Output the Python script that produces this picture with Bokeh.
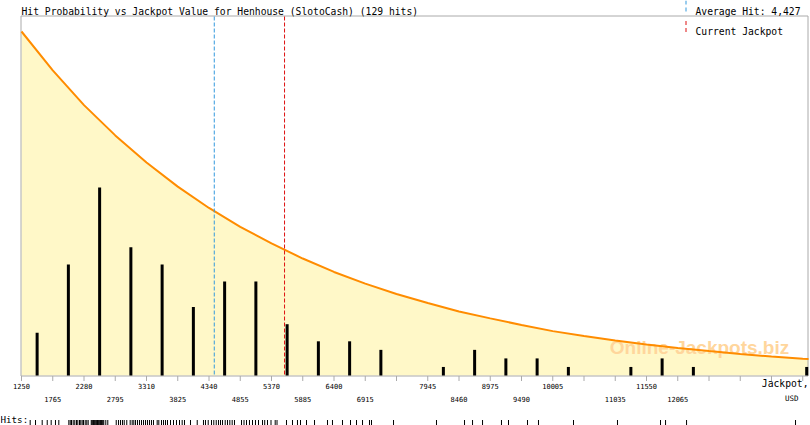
from bokeh.plotting import figure
from bokeh.models import Range1d, Label
from bokeh.core.properties import value
from bokeh.embed import file_html
from bokeh.resources import INLINE

# ---------------- data ----------------
casino = "Henhouse (SlotoCash)"
average_hit = 4427
current_jackpot = 5585

ticks = [1250, 1765, 2280, 2795, 3310, 3825, 4340, 4855, 5370, 5885, 6400,
         6915, 7430, 7945, 8460, 8975, 9490, 10005, 10520, 11035, 11550,
         12065, 12580, 13095, 13610, 14125]
upper_labels = [1250, 2280, 3310, 4340, 5370, 6400, 7945, 8975, 10005, 11550]
lower_labels = [1765, 2795, 3825, 4855, 5885, 6915, 8460, 9490, 11035, 12065]

bin_centers = [1507.5, 2022.5, 2537.5, 3052.5, 3567.5, 4082.5, 4597.5, 5112.5,
               5627.5, 6142.5, 6657.5, 7172.5, 8202.5, 8717.5, 9232.5, 9747.5,
               10262.5, 11292.5, 11807.5, 12322.5, 14190]
bin_hits = [5, 13, 22, 15, 13, 8, 11, 11, 6, 4, 4, 3, 1, 3, 2, 2, 1, 1, 2, 1, 1]

curve_x = [1250, 1765, 2280, 2795, 3310, 3825, 4340, 4855, 5370, 5885, 6400,
           6915, 7430, 7945, 8460, 8975, 9490, 10005, 10520, 11035, 11550,
           12065, 12580, 13095, 13610, 14125, 14220]
curve_prob = [1.0, 0.887, 0.786, 0.698, 0.619, 0.549, 0.487, 0.432, 0.384,
              0.340, 0.301, 0.267, 0.237, 0.211, 0.186, 0.166, 0.147, 0.129,
              0.115, 0.102, 0.090, 0.080, 0.071, 0.0625, 0.055, 0.049, 0.048]

hit_values = [1393, 1481, 1591, 1674, 1739,
              1810, 1865, 2030, 2053, 2074, 2102, 2128, 2156, 2178, 2206, 2227, 2250, 2272,
              2300, 2326, 2349, 2399, 2412, 2425, 2438, 2450, 2463, 2476, 2489, 2502,
              2516, 2529, 2542, 2554, 2567, 2580, 2593, 2606, 2639, 2672,
              2811, 2849, 2882, 2914, 2943, 2985, 3041, 3074, 3101, 3129, 3162, 3195,
              3228, 3261, 3294,
              3326, 3359, 3392, 3425, 3486, 3513, 3557, 3590, 3623, 3656, 3706, 3755, 3804,
              3854, 3898, 3936, 4035, 4146, 4249, 4282, 4327,
              4381, 4419, 4459, 4497, 4530, 4563, 4607, 4645, 4683, 4722, 4760,
              4876, 4917, 4958, 5007, 5057, 5106, 5156, 5222, 5258, 5304, 5362,
              5431, 5461, 5617, 5716, 5798, 5848,
              5947, 6079, 6293, 6375,
              6540, 6672, 6771, 6870,
              6985, 7018, 7381,
              8089, 8551, 8683, 8848, 9160, 9276, 9589, 9770, 10347,
              11072, 11781, 11864, 12210, 14006]

# ---------------- layout / styling ----------------
W, H = 810, 425
MONO = "DejaVu Sans Mono"
GRAY = "#aaaaaa"
X0_PX = 21                      # canvas x of the first tick
USD_PER_PX = 515 / 31.25        # tick spacing 515 USD = 31.25 px
BASE_PX = 375                   # canvas y of the zero line
TOP_PX = 16                     # canvas y of the plot box top
PX_PER_HIT = 359 / 42
PX_PER_PROB = 344


def xd(px):
    """canvas x pixel -> data x (for layout elements only)"""
    return ticks[0] + (px - X0_PX) * USD_PER_PX


p = figure(width=W, height=H, title=None,
           x_range=Range1d(xd(0), xd(W)),
           y_range=Range1d(-(H - BASE_PX) / PX_PER_HIT, BASE_PX / PX_PER_HIT),
           x_axis_location=None, y_axis_location=None,
           toolbar_location=None, output_backend="svg",
           min_border=0, min_border_left=0, min_border_right=0,
           min_border_top=0, min_border_bottom=0)
p.extra_y_ranges = {
    "prob": Range1d(-(H - BASE_PX) / PX_PER_PROB, BASE_PX / PX_PER_PROB),
    "px": Range1d(H, 0),
}
p.outline_line_color = None
p.background_fill_color = "white"
p.border_fill_color = "white"
p.xgrid.visible = False
p.ygrid.visible = False

# area under probability curve
p.varea(x=curve_x, y1=0, y2=curve_prob, y_range_name="prob",
        fill_color="#fff8c8", level="underlay")

# watermark
p.add_layout(Label(x=699, y=H - 347, x_units="screen", y_units="screen",
                   text="Online-Jackpots.biz", text_font="Liberation Sans",
                   text_font_style="bold", text_font_size="19px",
                   text_color="#ffd69c", text_align="center",
                   text_baseline="middle", level="underlay"))

# plot box
p.quad(left=[xd(X0_PX - 0.5)], right=[xd(807.5)], top=[TOP_PX - 0.5], bottom=[BASE_PX + 0.5],
       y_range_name="px", fill_color=None, line_color=GRAY, line_width=1)

# hit bars
p.segment(x0=bin_centers, y0=0, x1=bin_centers, y1=bin_hits,
          line_width=3, line_color="black", line_cap="butt")

# probability curve
p.line(curve_x, curve_prob, y_range_name="prob",
       line_color="#ff8c00", line_width=2)

# reference lines
p.segment(x0=[average_hit], y0=[TOP_PX], x1=[average_hit], y1=[BASE_PX], y_range_name="px",
          line_color="#3399dd", line_dash="4 2", line_width=1)
p.segment(x0=[current_jackpot], y0=[TOP_PX], x1=[current_jackpot], y1=[BASE_PX], y_range_name="px",
          line_color="#dd1111", line_dash="4 2", line_width=1)

# x ticks and labels
p.segment(x0=ticks, y0=BASE_PX + 0.5, x1=ticks, y1=BASE_PX + 5.5, y_range_name="px",
          line_color=GRAY, line_width=1)
p.text(x=upper_labels, y=[385] * len(upper_labels), text=[str(t) for t in upper_labels],
       y_range_name="px", text_font=value(MONO), text_font_size="7px",
       text_color="black", text_align="center", text_baseline="middle")
p.text(x=lower_labels, y=[398] * len(lower_labels), text=[str(t) for t in lower_labels],
       y_range_name="px", text_font=value(MONO), text_font_size="7px",
       text_color="black", text_align="center", text_baseline="middle")
p.add_layout(Label(x=808, y=H - 383, x_units="screen", y_units="screen",
                   text="Jackpot,", text_font=MONO, text_font_size="9.7px",
                   text_color="black", text_align="right", text_baseline="alphabetic"))
p.add_layout(Label(x=798, y=H - 398, x_units="screen", y_units="screen",
                   text="USD", text_font=MONO, text_font_size="7.5px",
                   text_color="black", text_align="right", text_baseline="middle"))

# title and legend
p.add_layout(Label(x=21, y=H - 11, x_units="screen", y_units="screen",
                   text=f"Hit Probability vs Jackpot Value for {casino} ({len(hit_values)} hits)",
                   text_font=MONO, text_font_size="9.7px", text_color="black",
                   text_baseline="alphabetic"))
p.add_layout(Label(x=695, y=H - 11, x_units="screen", y_units="screen",
                   text=f"Average Hit: {average_hit:,}",
                   text_font=MONO, text_font_size="9.7px", text_color="black",
                   text_baseline="alphabetic"))
p.add_layout(Label(x=695, y=H - 30.5, x_units="screen", y_units="screen",
                   text="Current Jackpot",
                   text_font=MONO, text_font_size="9.7px", text_color="black",
                   text_baseline="alphabetic"))
p.segment(x0=[xd(685.5)], y0=[0], x1=[xd(685.5)], y1=[11.5], y_range_name="px",
          line_color="#3399dd", line_dash="4 3", line_width=1)
p.segment(x0=[xd(685.5)], y0=[20.5], x1=[xd(685.5)], y1=[33.5], y_range_name="px",
          line_color="#dd1111", line_dash="4 3", line_width=1)

# rug of individual hits
p.segment(x0=hit_values, y0=419.5, x1=hit_values, y1=424.5, y_range_name="px",
          line_color="black", line_width=1)
p.add_layout(Label(x=0, y=H - 418.5, x_units="screen", y_units="screen",
                   text="Hits:", text_font=MONO, text_font_size="9.2px",
                   text_color="black", text_baseline="middle"))

open("out.html", "w").write(file_html(p, INLINE))
